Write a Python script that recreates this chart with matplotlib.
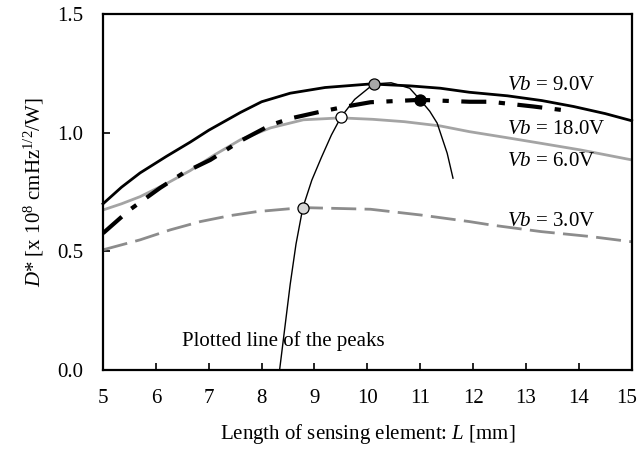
import matplotlib
matplotlib.use("Agg")
import matplotlib.pyplot as plt
from matplotlib.transforms import ScaledTranslation

plt.rcParams['font.family'] = ['Liberation Serif', 'DejaVu Serif']
plt.rcParams['mathtext.fontset'] = 'custom'
plt.rcParams['mathtext.rm'] = 'Liberation Serif'
plt.rcParams['mathtext.it'] = 'Liberation Serif:italic'

# curves: L [mm] vs D* [x 10^8 cmHz^1/2/W]
L_9v = [5.0, 5.35, 5.7, 6.2, 6.65, 7.0, 7.6, 8.0, 8.54, 9.2, 10.06, 10.8, 11.38, 11.93, 12.65, 13.3, 13.9, 14.5, 15.0]
D_9v = [0.70, 0.77, 0.83, 0.90, 0.96, 1.01, 1.085, 1.13, 1.166, 1.19, 1.205, 1.197, 1.187, 1.17, 1.155, 1.135, 1.11, 1.08, 1.05]

L_18v = [5.0, 5.5, 6.08, 6.52, 7.03, 7.6, 8.17, 8.55, 9.11, 9.6, 10.06, 11.0, 11.93, 12.33, 13.14, 13.8]
D_18v = [0.576, 0.674, 0.767, 0.83, 0.885, 0.965, 1.032, 1.06, 1.088, 1.11, 1.128, 1.138, 1.13, 1.13, 1.11, 1.092]

L_6v = [5.0, 5.35, 5.7, 6.2, 6.65, 7.1, 7.6, 8.17, 8.79, 9.5, 10.1, 10.7, 11.38, 11.93, 12.6, 13.28, 14.03, 15.0]
D_6v = [0.674, 0.70, 0.73, 0.785, 0.84, 0.905, 0.97, 1.02, 1.054, 1.062, 1.056, 1.046, 1.028, 1.004, 0.98, 0.955, 0.927, 0.885]

L_3v = [5.0, 5.7, 6.27, 6.84, 7.4, 7.91, 8.78, 10.06, 11.0, 11.93, 12.33, 13.28, 14.22, 15.0]
D_3v = [0.506, 0.548, 0.59, 0.625, 0.65, 0.667, 0.684, 0.677, 0.653, 0.625, 0.611, 0.583, 0.562, 0.54]

# line through the peaks
L_peak = [8.34, 8.44, 8.54, 8.65, 8.78, 8.95, 9.13, 9.32, 9.5, 9.76, 10.12, 10.45, 10.8, 11.0, 11.18, 11.32, 11.51, 11.62]
D_peak = [0.0, 0.18, 0.36, 0.53, 0.684, 0.80, 0.895, 0.99, 1.065, 1.14, 1.205, 1.21, 1.187, 1.138, 1.09, 1.04, 0.913, 0.808]

mark_L = [8.78, 9.5, 10.12, 11.0]
mark_D = [0.684, 1.065, 1.205, 1.138]
mark_fc = ['#d8d8d8', 'white', '#a8a8a8', 'black']

fig = plt.figure(figsize=(6.4, 4.5), dpi=100)
ax = fig.add_axes([0.161, 0.178, 0.826, 0.791])

ax.plot(L_3v, D_3v, color='#8c8c8c', lw=2.0, linestyle=(0, (9, 3)))
ax.plot(L_6v, D_6v, color='#a4a4a4', lw=2.0)
ax.plot(L_18v, D_18v, color='black', lw=3.0, linestyle=(0, (6, 3, 1.5, 3)))
ax.plot(L_9v, D_9v, color='black', lw=2.0, clip_on=False)
ax.plot(L_peak, D_peak, color='black', lw=1.0)
for x, y, fc in zip(mark_L, mark_D, mark_fc):
    ax.plot(x, y, 'o', ms=8, mfc=fc, mec='black', mew=0.9, zorder=5)

fs = 15
ax.text(12.65, 1.197, r'$Vb$ = 9.0V', fontsize=fs, va='center')
ax.text(12.65, 1.011, r'$Vb$ = 18.0V', fontsize=fs, va='center')
ax.text(12.65, 0.878, r'$Vb$ = 6.0V', fontsize=fs, va='center')
ax.text(12.65, 0.625, r'$Vb$ = 3.0V', fontsize=fs, va='center')
ax.text(6.5, 0.08, 'Plotted line of the peaks', fontsize=fs, va='bottom')

ax.set_xlim(5, 15)
ax.set_ylim(0, 1.5)
ax.set_xticks(range(5, 16))
ax.set_yticks([0.0, 0.5, 1.0, 1.5])
ax.set_yticklabels(['0.0', '0.5', '1.0', '1.5'])
ax.tick_params(direction='in', length=5, width=1.2, labelsize=fs)
ax.tick_params(axis='x', pad=14)
ax.tick_params(axis='y', pad=14)
for s in ax.spines.values():
    s.set_linewidth(1.6)

# keep the last x label inside the figure
last = ax.get_xticklabels()[-1]
last.set_transform(last.get_transform() + ScaledTranslation(-5 / 100, 0, fig.dpi_scale_trans))

ax.set_xlabel(r'Length of sensing element: $L$ [mm]', fontsize=fs, labelpad=10)
ax.set_ylabel(r'$D$* [x 10$^8$ cmHz$^{1/2}$/W]', fontsize=fs, labelpad=8)

fig.savefig('out.png', dpi=100)
